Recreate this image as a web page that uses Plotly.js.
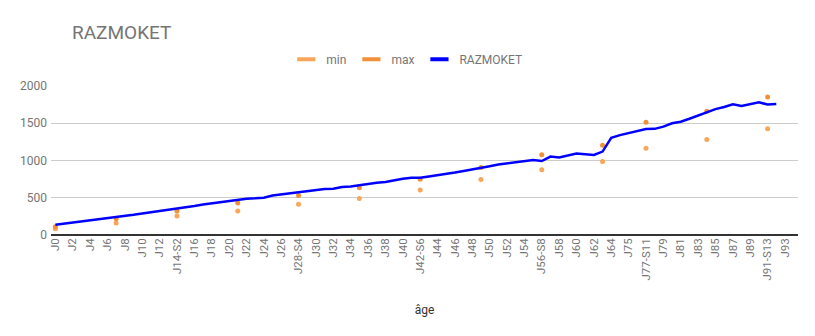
<!DOCTYPE html>
<html>
<head>
<meta charset="utf-8">
<script src="https://cdn.plot.ly/plotly-3.0.1.min.js"></script>
<style>html,body{margin:0;padding:0;background:#fff;}#chart{width:815px;height:336px;}</style>
</head>
<body>
<div id="chart"></div>
<script>
// Categories (days / weeks)
const categories = [
  "J0","J1","J2","J3","J4","J5","J6","J7-S1","J8","J9","J10","J11","J12","J13","J14-S2",
  "J15","J16","J17","J18","J19","J20","J21-S3","J22","J23","J24","J25","J26","J27","J28-S4",
  "J29","J30","J31","J32","J33","J34","J35-S5","J36","J37","J38","J39","J40","J41","J42-S6",
  "J43","J44","J45","J46","J47","J48","J49-S7","J50","J51","J52","J53","J54","J55","J56-S8",
  "J57","J58","J59","J60","J61","J62","J63-S9","J64","J70-S10","J75","J76","J77-S11",
  "J78","J79","J80","J81","J82","J83","J84-S12","J85","J86","J87","J88","J89","J90","J91-S13",
  "J92","J93","J94"
];
// RAZMOKET weight series (one per category, last ones empty)
const razmoket = [
  138,152,168,180,195,208,225,245,258,272,290,305,318,335,356,
  370,388,410,425,440,455,465,488,492,500,530,545,558,570,
  590,605,618,620,645,650,668,680,700,712,735,755,770,768,
  785,800,818,838,860,878,905,922,945,962,980,995,1005,993,
  1052,1040,1070,1095,1085,1075,1120,1305,1341,1365,1390,1422,
  1425,1455,1500,1520,1560,1600,1645,1690,1718,1755,1733,1752,1780,1752,
  1760,null,null
];
// Weekly reference points
const refCategories = ["J0","J7-S1","J14-S2","J21-S3","J28-S4","J35-S5","J42-S6","J49-S7","J56-S8","J63-S9","J77-S11","J84-S12","J91-S13"];
const minValues = [85,160,254,321,414,490,603,745,875,986,1163,1283,1425];
const maxValues = [112,218,321,428,530,633,750,906,1076,1206,1515,1662,1853];
// Tick labels: every other category
const tickLabels = categories.filter((c,i) => i % 2 === 0);

const minColor = '#f9a65a';
const maxColor = '#f0913a';
const lineColor = '#0000ff';
const textColor = '#757575';

function legendEntry(name, color) {
  return {x: [null], y: [null], type: 'scatter', mode: 'markers', name: name,
          marker: {symbol: 'line-ew', size: 13, color: color, line: {color: color, width: 4}}};
}

const traces = [
  {x: refCategories, y: minValues, type: 'scatter', mode: 'markers', name: 'min', showlegend: false,
   marker: {color: minColor, size: 5}, hoverinfo: 'x+y'},
  {x: refCategories, y: maxValues, type: 'scatter', mode: 'markers', name: 'max', showlegend: false,
   marker: {color: maxColor, size: 5}, hoverinfo: 'x+y'},
  {x: categories, y: razmoket, type: 'scatter', mode: 'lines', name: 'RAZMOKET', showlegend: false,
   line: {color: lineColor, width: 2.5}},
  legendEntry('min', minColor),
  legendEntry('max', maxColor),
  legendEntry('RAZMOKET', lineColor)
];

const layout = {
  width: 815, height: 336,
  margin: {l: 51, r: 17, t: 86, b: 101},
  paper_bgcolor: '#fff', plot_bgcolor: '#fff',
  font: {family: 'Roboto, Arial, sans-serif', color: textColor, size: 12},
  title: {text: 'RAZMOKET', x: 0, xref: 'paper', xanchor: 'left', y: 0.905, yanchor: 'middle',
          font: {size: 19, color: textColor}, pad: {l: 21}},
  showlegend: true,
  legend: {orientation: 'h', x: 0.315, xanchor: 'left', y: 1.18, yanchor: 'middle',
           font: {size: 12, color: textColor}, itemwidth: 30, traceorder: 'normal'},
  xaxis: {
    type: 'category', categoryorder: 'array', categoryarray: categories,
    range: [-0.5, categories.length - 0.5],
    tickmode: 'array', tickvals: tickLabels, ticktext: tickLabels,
    tickangle: -90, tickfont: {size: 11.5, color: textColor},
    showgrid: false, showline: false, ticks: '', zeroline: false,
    title: {text: 'âge', font: {size: 12, color: '#333'}, standoff: 26}
  },
  yaxis: {
    range: [0, 2000], tickvals: [0, 500, 1000, 1500, 2000],
    showgrid: true, gridcolor: '#cccccc', gridwidth: 1,
    zeroline: true, zerolinecolor: '#333333', zerolinewidth: 1.5,
    showline: false, ticks: '', tickfont: {size: 12, color: textColor},
    ticklabelstandoff: 3, fixedrange: true
  },
  hovermode: 'closest'
};

Plotly.newPlot('chart', traces, layout, {displayModeBar: false});
</script>
</body>
</html>
